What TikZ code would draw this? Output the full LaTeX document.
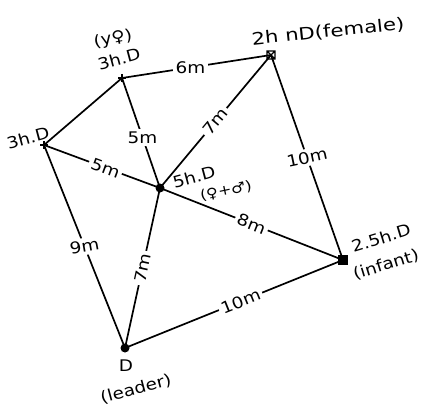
\documentclass[tikz,border=0pt]{standalone}
\usepackage{fontspec}
\setmainfont{DejaVu Sans}[FakeStretch=1.15]
\usetikzlibrary{calc}
\begin{document}
\begin{tikzpicture}[x=1pt,y=-1pt,line width=1.7pt,
  lbl/.style={font=\fontsize{16}{18}\selectfont, inner sep=0pt},
  elbl/.style={font=\fontsize{16}{18}\selectfont, fill=white, inner sep=2.5pt},
  crossmark/.style={line width=1.4pt},
  boxmark/.style={line width=1.2pt}]
\useasboundingbox[fill=white] (0,0) rectangle (422,417);
\coordinate (a) at (44,145);
\coordinate (b) at (122,78);
\coordinate (c) at (271,55);
\coordinate (m) at (160,188);
\coordinate (e) at (343,260);
\coordinate (l) at (125,348);
% connectors
\draw (a) -- (b);
\draw (b) -- node[elbl,pos=0.46]{6m} (c);
\draw (b) -- node[elbl,pos=0.54]{5m} (m);
\draw (c) -- node[elbl,sloped,pos=0.5]{7m} (m);
\draw (c) -- node[elbl,pos=0.5,rotate=12]{10m} (e);
\draw (a) -- node[elbl,sloped,pos=0.53]{5m} (m);
\draw (m) -- node[elbl,sloped,pos=0.5]{8m} (e);
\draw (a) -- node[elbl,pos=0.5,rotate=10]{9m} (l);
\draw (l) -- node[elbl,sloped,pos=0.5]{7m} (m);
\draw (l) -- node[elbl,sloped,pos=0.53]{10m} (e);
% markers
\draw[crossmark] ($(a)+(-4,0)$) -- ($(a)+(4,0)$) ($(a)+(0,-4)$) -- ($(a)+(0,4)$);
\draw[crossmark] ($(b)+(-4,0)$) -- ($(b)+(4,0)$) ($(b)+(0,-4)$) -- ($(b)+(0,4)$);
\draw[boxmark] ($(c)+(-4,-4)$) rectangle ($(c)+(4,4)$) ($(c)+(-4,-4)$) -- ($(c)+(4,4)$) ($(c)+(-4,4)$) -- ($(c)+(4,-4)$);
\fill (m) circle (4.5);
\fill ($(e)+(-5,-5)$) rectangle ($(e)+(5,5)$);
\fill (l) circle (4.5);
% labels
\node[lbl,rotate=11] (tb1) at (113,39) {(y♀)};
\node[lbl,rotate=15] (tb2) at (119,59) {3h.D};
\node[lbl,rotate=15] (ta) at (28,138) {3h.D};
\node[lbl,rotate=6,font=\fontsize{17}{19}\selectfont\addfontfeature{FakeStretch=1.25}] (tc) at (328,32) {2h nD(female)};
\node[lbl,rotate=15] (tm1) at (194,177) {5h.D};
\node[lbl,rotate=12,font=\fontsize{14}{16}\selectfont] (tm2) at (226,191) {(♀+♂)};
\node[lbl,rotate=17] (te1) at (381,238) {2.5h.D};
\node[lbl,rotate=17] (te2) at (386,265) {(infant)};
\node[lbl] (tl1) at (126,366) {D};
\node[lbl,rotate=15] (tl2) at (136,389) {(leader)};
\end{tikzpicture}
\end{document}
